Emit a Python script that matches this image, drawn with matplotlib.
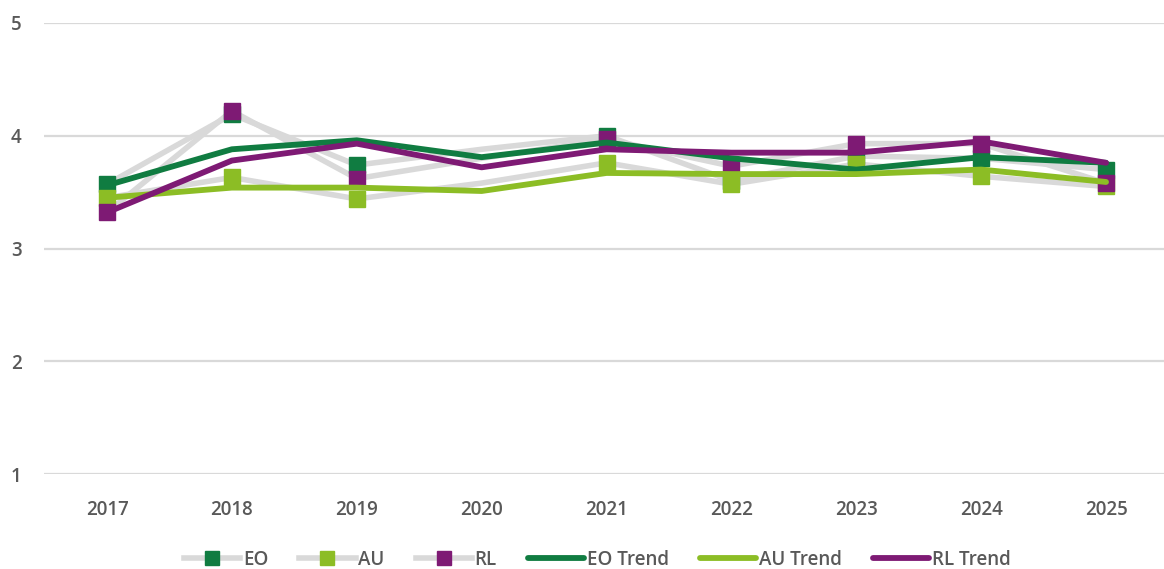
import numpy as np
import matplotlib.pyplot as plt
from matplotlib.lines import Line2D

years = ["2017", "2018", "2019", "2020", "2021", "2022", "2023", "2024", "2025"]

eo = [3.57, 4.19, 3.74, 3.88, 4.00, 3.60, 3.82, 3.80, 3.70]
au = [3.45, 3.63, 3.44, 3.58, 3.76, 3.57, 3.75, 3.64, 3.55]
rl = [3.32, 4.22, 3.62, 3.80, 3.97, 3.73, 3.93, 3.93, 3.58]

eo_trend = [3.56, 3.88, 3.96, 3.81, 3.94, 3.80, 3.70, 3.81, 3.76]
au_trend = [3.45, 3.54, 3.54, 3.51, 3.67, 3.66, 3.66, 3.70, 3.59]
rl_trend = [3.32, 3.78, 3.93, 3.72, 3.88, 3.85, 3.85, 3.95, 3.76]

# no markers shown for 2020
marker_idx = [0, 1, 2, 4, 5, 6, 7, 8]

c_eo = "#107c41"
c_au = "#8cbd25"
c_rl = "#7e1a74"
c_gray = "#d9d9d9"
c_text = "#595959"

plt.rcParams["font.family"] = ["Open Sans", "DejaVu Sans"]

fig = plt.figure(figsize=(11.64, 5.69), dpi=100)
ax = fig.add_axes([44 / 1164, 95 / 569, 1120 / 1164, 451 / 569])

x = np.arange(len(years))

for vals in [eo, au, rl]:
    ax.plot(x, vals, color=c_gray, lw=4.0, zorder=2, solid_joinstyle="round")
for vals, col in [(eo, c_eo), (au, c_au), (rl, c_rl)]:
    ax.plot(x, vals, ls="none", marker="s", ms=11.5, color=col,
            markevery=marker_idx, zorder=3)

for vals, col in [(eo_trend, c_eo), (au_trend, c_au), (rl_trend, c_rl)]:
    ax.plot(x, vals, color=col, lw=4.2, zorder=4,
            solid_capstyle="round", solid_joinstyle="round")

ax.set_ylim(1, 5)
ax.set_xlim(-0.5045, 8.464)
ax.set_yticks([1, 2, 3, 4, 5])
ax.set_xticks(x)
ax.set_xticklabels(years)
ax.grid(axis="y", color=c_gray, lw=1.6, zorder=0)
ax.set_axisbelow(True)
for s in ax.spines.values():
    s.set_visible(False)
ax.tick_params(length=0, colors=c_text, labelsize=13.5)
ax.tick_params(axis="y", pad=16)
ax.tick_params(axis="x", pad=19)
for lab in ax.get_xticklabels() + ax.get_yticklabels():
    lab.set_fontweight("semibold")

handles = [
    Line2D([], [], color=c_gray, lw=4.0, marker="s", ms=10.5, mfc=c_eo, mec=c_eo),
    Line2D([], [], color=c_gray, lw=4.0, marker="s", ms=10.5, mfc=c_au, mec=c_au),
    Line2D([], [], color=c_gray, lw=4.0, marker="s", ms=10.5, mfc=c_rl, mec=c_rl),
    Line2D([], [], color=c_eo, lw=4.2, solid_capstyle="round"),
    Line2D([], [], color=c_au, lw=4.2, solid_capstyle="round"),
    Line2D([], [], color=c_rl, lw=4.2, solid_capstyle="round"),
]
labels = ["EO", "AU", "RL", "EO Trend", "AU Trend", "RL Trend"]
leg = fig.legend(handles, labels, loc="center", bbox_to_anchor=(0.513, 0.016),
                 ncol=6, frameon=False, handlelength=3.0, handletextpad=0.15,
                 columnspacing=1.65, fontsize=13.5)
for t in leg.get_texts():
    t.set_color(c_text)
    t.set_fontweight("semibold")

fig.savefig("out.png", dpi=100)
